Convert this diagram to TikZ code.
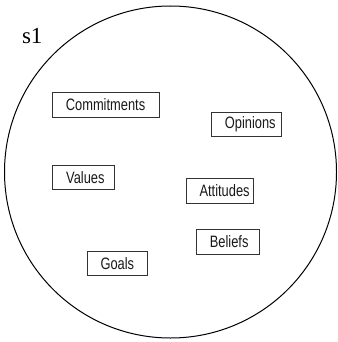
\documentclass[tikz,border=0pt]{standalone}
\usepackage{fontspec}
\setmainfont{Liberation Serif}
\newfontfamily\traitfont[FakeStretch=0.78]{Liberation Sans}
\usepackage{tikz}

\begin{document}
\begin{tikzpicture}[x=1pt,y=-1pt,semithick]
  \tikzstyle{trait}=[draw=black!80,line width=0.7pt,anchor=west,align=left,
                     inner xsep=13.5pt,inner ysep=0pt,minimum height=24.6pt,
                     font=\traitfont\fontsize{16.5}{16.5}\selectfont,text=black!90]
  \useasboundingbox (0,0) rectangle (337,342);

  \node[circle,draw,line width=1pt,minimum size=332pt,inner sep=0pt]
                   (SET)  at (170.5,172)   {};
  \node[anchor=base west,inner sep=0pt,font=\fontsize{23}{23}\selectfont]
                   (S1)   at (21.7,44)     {s1};

  \node[trait,text width=80pt]   (COMMITMENTS) at (52,105)    {Commitments};
  \node[trait,text width=43pt]   (OPINIONS)    at (211,124.5) {Opinions};
  \node[trait,text width=35pt]   (VALUES)      at (52.3,177.5){Values};
  \node[trait,text width=40.6pt] (ATTITUDES)   at (185.7,191) {Attitudes};
  \node[trait,text width=36pt]   (BELIEFS)     at (196,241.8) {Beliefs};
  \node[trait,text width=33.6pt] (GOALS)       at (86.7,263.3){Goals};
\end{tikzpicture}
\end{document}
